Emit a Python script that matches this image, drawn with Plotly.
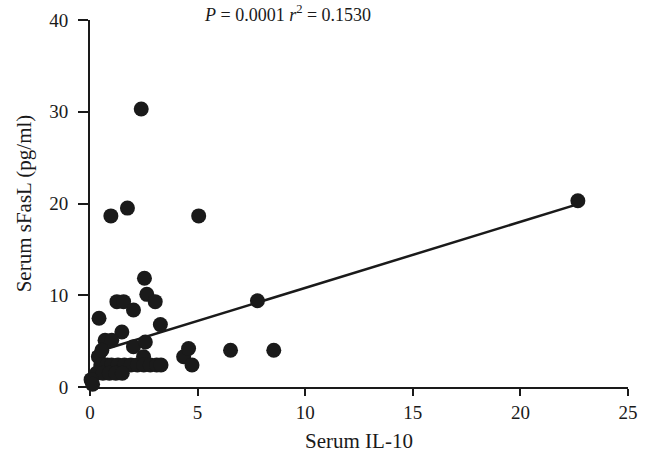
import plotly.graph_objects as go

# Serum IL-10 vs serum sFasL
il10 = [2.38, 0.97, 1.74, 5.05, 22.67, 2.53, 2.64, 3.03, 1.25, 1.56, 2.02,
        0.42, 3.27, 1.48, 7.78, 0.70, 1.01, 2.02, 2.57, 0.39, 0.55, 2.49,
        4.35, 4.58, 4.74, 6.53, 8.54,
        0.5, 0.8, 1.0, 1.3, 1.6, 1.9, 2.2, 2.5, 2.8, 3.1, 3.3,
        0.3, 0.6, 0.9, 1.2, 1.5,
        0.05, 0.12]
sfasl = [30.3, 18.65, 19.5, 18.65, 20.3, 11.85, 10.1, 9.3, 9.3, 9.3, 8.4,
         7.5, 6.8, 6.0, 9.4, 5.1, 5.1, 4.4, 4.9, 3.3, 4.0, 3.3,
         3.3, 4.2, 2.4, 4.0, 4.0,
         2.4, 2.4, 2.4, 2.4, 2.4, 2.4, 2.4, 2.4, 2.4, 2.4, 2.4,
         1.5, 1.5, 1.5, 1.5, 1.5,
         0.8, 0.3]

# regression line as drawn (intercept/slope)
fit_x = [0.1, 22.6]
fit_intercept = 3.6
fit_slope = 0.72
fit_y = [fit_intercept + fit_slope * v for v in fit_x]

x_ticks = [0, 5, 10, 15, 20, 25]
y_ticks = [0, 10, 20, 30, 40]

FONT = "Liberation Serif, Times New Roman, serif"
INK = "#1a1a1a"

fig = go.Figure()

fig.add_trace(go.Scatter(
    x=fit_x, y=fit_y, mode="lines",
    line=dict(color=INK, width=2.5),
    hoverinfo="skip", showlegend=False,
))

fig.add_trace(go.Scatter(
    x=il10, y=sfasl, mode="markers",
    marker=dict(size=15, color=INK, line=dict(width=0)),
    cliponaxis=False, showlegend=False,
))

fig.add_annotation(
    xref="paper", yref="paper", x=0.367, y=1.019,
    text="<i>P</i> = 0.0001 <i>r</i><sup>2</sup> = 0.1530",
    showarrow=False, xanchor="center", yanchor="middle",
    font=dict(family=FONT, size=18, color=INK),
)

fig.update_layout(
    width=653, height=465,
    paper_bgcolor="white", plot_bgcolor="white",
    margin=dict(l=90, r=25, t=20, b=78),
    font=dict(family=FONT, size=19, color=INK),
)
fig.update_xaxes(
    range=[0, 25], tickvals=x_ticks, showgrid=False, zeroline=False,
    showline=True, linecolor=INK, linewidth=2, automargin=False,
    ticks="outside", ticklen=7, tickwidth=2, tickcolor=INK,
    tickfont=dict(size=19),
    title=dict(text="Serum IL-10", font=dict(size=21), standoff=12),
)
fig.update_yaxes(
    range=[0, 40], tickvals=y_ticks, showgrid=False, zeroline=False,
    showline=True, linecolor=INK, linewidth=2, automargin=False,
    ticks="outside", ticklen=10, tickwidth=2, tickcolor=INK,
    tickfont=dict(size=19), ticklabelstandoff=6,
    title=dict(text="Serum sFasL (pg/ml)", font=dict(size=21), standoff=12),
)

# drop the default 8px body margin so the figure fills the window
fig.write_html(
    "out.html",
    config={"displayModeBar": False},
    post_script="document.body.style.margin='0';",
)
